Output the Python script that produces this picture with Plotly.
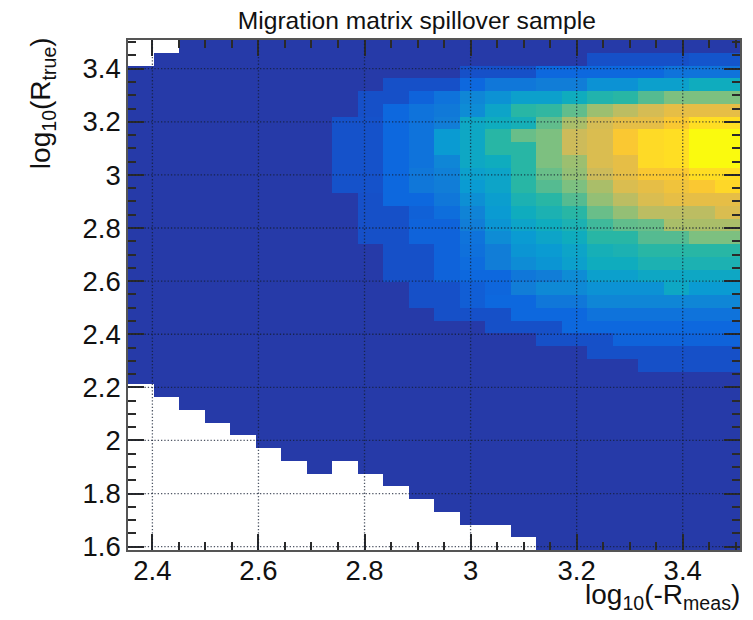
import plotly.graph_objects as go

N = None
# Colour level per bin, top row first (log10 R_true descending), 24 columns
level_rows = [
 [N,N,0,0,0,0,0,0,0,0,0,0,0,0,0,0,0,0,0,0,0,0,0,0],
 [N,0,0,0,0,0,0,0,0,0,0,0,0,0,0,0,0,0,1,1,1,1,1.2,1.2],
 [0,0,0,0,0,0,0,0,0,0,0,0,0,1,1,1,2,2,2,2,2,2.5,2.5,2.5],
 [0,0,0,0,0,0,0,0,0,0,1,1,1,2,2.7,2.7,3,3,3.7,3.7,4.3,4.3,5,5],
 [0,0,0,0,0,0,0,0,0,1,1,1.8,2.5,3.3,3.7,4.3,4.3,5,5.7,6,7,8,8,8],
 [0,0,0,0,0,0,0,0,0,1,2,2.5,2.8,3.5,4.5,6,6.2,7.3,8.7,9.5,10.3,11,11,11],
 [0,0,0,0,0,0,0,0,1.1,1.1,2,2.5,3,4.7,5,5.3,7.3,9,10.3,11,11,12,13,13],
 [0,0,0,0,0,0,0,0,1.1,1.1,2,2.5,4,4.7,6,7.5,8,10,10.5,12,12.8,13,14,14],
 [0,0,0,0,0,0,0,0,1.1,1.1,2,2.5,4,4.7,6,6,8,10,10.5,12,12.8,13,14,14],
 [0,0,0,0,0,0,0,0,1.1,1.1,2,2.5,3.3,4.7,5,6,8,8.7,10.5,11,12.8,13,14,14],
 [0,0,0,0,0,0,0,0,1.1,1.1,2,2.7,3.1,4.3,4.5,6,7.5,8.5,10,11,12,12,13,13],
 [0,0,0,0,0,0,0,0,1.1,1.1,2,2.7,3,4,4.5,6,7,8,9,10.5,11,11.5,12,12.7],
 [0,0,0,0,0,0,0,0,0,1,2,2,2.7,3.6,4.2,5.5,6,7,8.5,9.5,10.5,11,11,11],
 [0,0,0,0,0,0,0,0,0,1,1,1.7,2.3,3.2,4,5,5.5,6,7.5,8.5,9.5,9.5,9.5,10.5],
 [0,0,0,0,0,0,0,0,0,1,1,1.8,1.8,3,3.8,4.5,5,5.5,6.5,7.3,7.5,9,9,9],
 [0,0,0,0,0,0,0,0,0,1,1,1.8,1.8,2.5,3.5,4,4.5,5,6,6,7,7,8,8],
 [0,0,0,0,0,0,0,0,0,0,1,1,1.8,2.4,3,3.8,4,4.5,5.3,5.5,6,6,6,6],
 [0,0,0,0,0,0,0,0,0,0,1,1,1.8,2.2,3,3.5,3.8,4.3,5,5,5.5,5.5,5.5,5.5],
 [0,0,0,0,0,0,0,0,0,0,1,1,1.8,2,2,2.7,3,3.5,4.3,4.3,4.7,4.7,4.7,4.7],
 [0,0,0,0,0,0,0,0,0,0,0,1,1,1.6,1.9,3,3.4,3.4,3.7,3.7,3.7,4.7,4,4],
 [0,0,0,0,0,0,0,0,0,0,0,1,1,1.6,2,2,2.7,2.7,3.3,3.3,3.3,3.3,3.3,3.3],
 [0,0,0,0,0,0,0,0,0,0,0,0,1,1,1,2,2,2,2.5,2.5,2.5,2.5,2.5,2.5],
 [0,0,0,0,0,0,0,0,0,0,0,0,0,0,1,1,1,2,2,2,2,2,2,2],
 [0,0,0,0,0,0,0,0,0,0,0,0,0,0,0,0,1,1,1,1.8,1.8,1.8,1.8,1.8],
 [0,0,0,0,0,0,0,0,0,0,0,0,0,0,0,0,0,0,1,1,1,1,1,1],
 [0,0,0,0,0,0,0,0,0,0,0,0,0,0,0,0,0,0,0,0,1,1,1,1],
 [0,0,0,0,0,0,0,0,0,0,0,0,0,0,0,0,0,0,0,0,0,0,0,0],
 [N,0,0,0,0,0,0,0,0,0,0,0,0,0,0,0,0,0,0,0,0,0,0,0],
 [N,N,0,0,0,0,0,0,0,0,0,0,0,0,0,0,0,0,0,0,0,0,0,0],
 [N,N,N,0,0,0,0,0,0,0,0,0,0,0,0,0,0,0,0,0,0,0,0,0],
 [N,N,N,N,0,0,0,0,0,0,0,0,0,0,0,0,0,0,0,0,0,0,0,0],
 [N,N,N,N,N,0,0,0,0,0,0,0,0,0,0,0,0,0,0,0,0,0,0,0],
 [N,N,N,N,N,N,0,0,0,0,0,0,0,0,0,0,0,0,0,0,0,0,0,0],
 [N,N,N,N,N,N,N,0,N,0,0,0,0,0,0,0,0,0,0,0,0,0,0,0],
 [N,N,N,N,N,N,N,N,N,N,0,0,0,0,0,0,0,0,0,0,0,0,0,0],
 [N,N,N,N,N,N,N,N,N,N,N,0,0,0,0,0,0,0,0,0,0,0,0,0],
 [N,N,N,N,N,N,N,N,N,N,N,N,0,0,0,0,0,0,0,0,0,0,0,0],
 [N,N,N,N,N,N,N,N,N,N,N,N,N,0,0,0,0,0,0,0,0,0,0,0],
 [N,N,N,N,N,N,N,N,N,N,N,N,N,N,N,0,0,0,0,0,0,0,0,0],
 [N,N,N,N,N,N,N,N,N,N,N,N,N,N,N,N,0,0,0,0,0,0,0,0],
]

x_range = [2.354, 3.508]
y_range = [1.5875, 3.508]
x_ticks = [2.4, 2.6, 2.8, 3.0, 3.2, 3.4]
x_labels = ["2.4", "2.6", "2.8", "3", "3.2", "3.4"]
y_ticks = [1.6, 1.8, 2.0, 2.2, 2.4, 2.6, 2.8, 3.0, 3.2, 3.4]
y_labels = ["1.6", "1.8", "2", "2.2", "2.4", "2.6", "2.8", "3", "3.2", "3.4"]
level_colors = ["#263AA8", "#1650C8", "#0D68DE", "#117DD7", "#0A9BD2", "#0FACBE",
                "#28B6A5", "#55BB91", "#7DC080", "#AABE69", "#CDBB5A", "#E6BE46",
                "#FAC832", "#FFDE23", "#FAFA0E"]

n_rows = len(level_rows)
n_cols = len(level_rows[0])
dx = (x_range[1] - x_range[0]) / n_cols
dy = (y_range[1] - y_range[0]) / n_rows
top_level = len(level_colors) - 1
FONT = "Liberation Sans"

fig = go.Figure(go.Heatmap(
    z=level_rows[::-1],
    x0=x_range[0] + dx / 2, dx=dx,
    y0=y_range[0] + dy / 2, dy=dy,
    zmin=0, zmax=top_level,
    colorscale=[[i / top_level, c] for i, c in enumerate(level_colors)],
    showscale=False, zsmooth=False, hoverongaps=False,
))

grid = dict(color="rgba(20,30,50,0.75)", width=1.3, dash="1.3px,2px")
shapes = []
for v in x_ticks:
    shapes.append(dict(type="line", xref="x", yref="paper", x0=v, x1=v, y0=0, y1=1, line=grid, layer="above"))
for v in y_ticks:
    shapes.append(dict(type="line", xref="paper", yref="y", x0=0, x1=1, y0=v, y1=v, line=grid, layer="above"))

axis = dict(showgrid=False, zeroline=False, showline=True, linecolor="#555555", linewidth=1.5,
            mirror="allticks", ticks="inside", ticklen=16, tickwidth=1.5, tickcolor="#2a2a2a",
            tickfont=dict(family=FONT, size=27.5, color="#111111"), layer="above traces",
            minor=dict(ticks="inside", ticklen=8, tickwidth=1.5, tickcolor="#2a2a2a", dtick=0.05, tick0=0))

fig.update_layout(
    width=745, height=612, autosize=False,
    margin=dict(l=119.5, r=13, t=31.5, b=70),
    paper_bgcolor="white", plot_bgcolor="white",
    shapes=shapes,
    title=dict(text="Migration matrix spillover sample", x=0.5488, xanchor="center", y=0.979, yanchor="middle",
               font=dict(family=FONT, size=24.6, color="#111111")),
    xaxis=dict(axis, range=x_range, tickmode="array", tickvals=x_ticks, ticktext=x_labels, ticklabelstandoff=-5),
    yaxis=dict(axis, range=y_range, tickmode="array", tickvals=y_ticks, ticktext=y_labels),
    annotations=[
        dict(text="log<sub>10</sub>(-R<sub>meas</sub>)", xref="paper", yref="paper", x=1.003, y=-0.092,
             xanchor="right", yanchor="middle", showarrow=False,
             font=dict(family=FONT, size=28, color="#111111")),
        dict(text="log<sub>10</sub>(R<sub>true</sub>)", xref="paper", yref="paper", x=-0.1385, y=1.01,
             xanchor="center", yanchor="top", textangle=-90, showarrow=False,
             font=dict(family=FONT, size=28, color="#111111")),
    ],
)
fig.write_html("out.html")
